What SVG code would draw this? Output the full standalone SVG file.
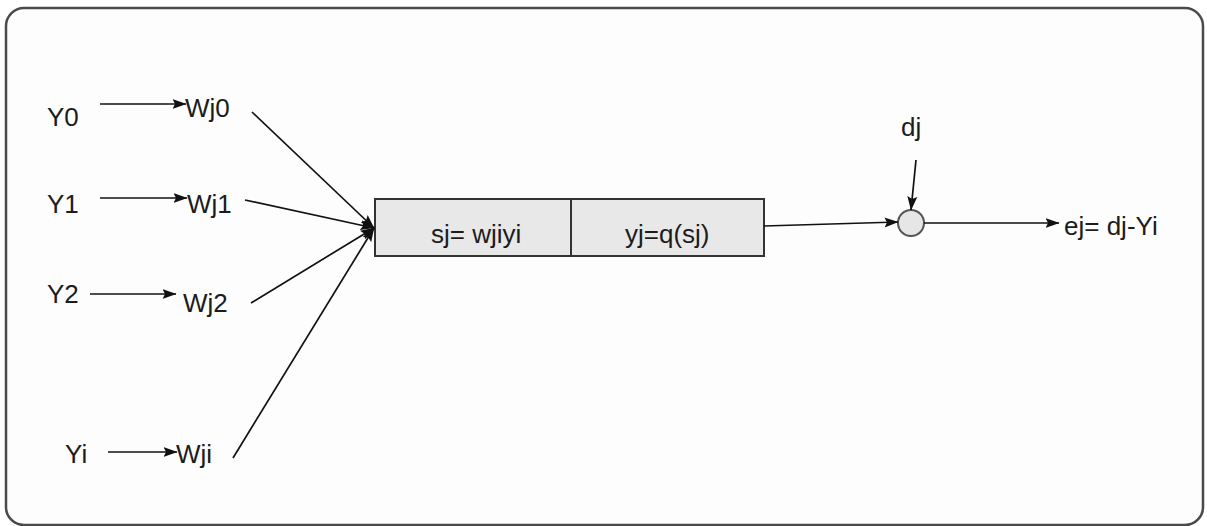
<svg xmlns="http://www.w3.org/2000/svg" width="1207" height="526" viewBox="0 0 1207 526">
  <style>
    .lbl { font-family: "Liberation Sans", Arial, sans-serif; font-size: 26px; fill: #1c1c1c; }
    .wire { stroke: #111; stroke-width: 1.7; fill: none; }
    .box { fill: #e8e8e8; stroke: #333; stroke-width: 2; }
  </style>
  <defs>
    <marker id="arrow" viewBox="0 0 14 11" refX="13.5" refY="5.5" markerWidth="14" markerHeight="11" markerUnits="userSpaceOnUse" orient="auto">
      <path d="M0,0.5 L14,5.5 L0,10.5 L2.5,5.5 Z" fill="#111"/>
    </marker>
  </defs>

  <rect x="0" y="0" width="1207" height="526" fill="#ffffff"/>
  <!-- outer frame -->
  <rect x="6" y="8" width="1197" height="517" rx="18" ry="18" fill="#fdfdfd" stroke="#4a4a4a" stroke-width="2.5"/>

  <!-- inputs and weights -->
  <g id="in-y0"><text class="lbl" x="47" y="126">Y0</text></g>
  <g id="w-j0"><text class="lbl" x="185" y="117">Wj0</text></g>
  <g id="in-y1"><text class="lbl" x="47" y="213">Y1</text></g>
  <g id="w-j1"><text class="lbl" x="187" y="213">Wj1</text></g>
  <g id="in-y2"><text class="lbl" x="47" y="303">Y2</text></g>
  <g id="w-j2"><text class="lbl" x="183" y="312">Wj2</text></g>
  <g id="in-yi"><text class="lbl" x="65" y="463">Yi</text></g>
  <g id="w-ji"><text class="lbl" x="176" y="463">Wji</text></g>

  <!-- neuron body: summation and activation -->
  <g id="neuron">
    <rect class="box" x="375" y="199" width="389" height="57"/>
    <line x1="571" y1="199" x2="571" y2="256" stroke="#333" stroke-width="2"/>
    <text class="lbl" x="431" y="243">sj= wjiyi</text>
    <text class="lbl" x="625" y="243">yj=q(sj)</text>
  </g>

  <!-- comparator -->
  <g id="compare">
    <circle cx="911" cy="223" r="13" fill="#e6e6e6" stroke="#555" stroke-width="2"/>
  </g>
  <g id="target"><text class="lbl" x="901" y="136">dj</text></g>
  <g id="error"><text class="lbl" x="1064" y="235">ej= dj-Yi</text></g>

  <!-- connectors -->
  <g id="connectors">
    <line class="wire" x1="100" y1="104" x2="186" y2="104" marker-end="url(#arrow)"/>
    <line class="wire" x1="100" y1="198" x2="187" y2="198" marker-end="url(#arrow)"/>
    <line class="wire" x1="90" y1="294" x2="176" y2="294" marker-end="url(#arrow)"/>
    <line class="wire" x1="108" y1="452" x2="177" y2="452" marker-end="url(#arrow)"/>

    <line class="wire" x1="252" y1="112" x2="374" y2="228" marker-end="url(#arrow)"/>
    <line class="wire" x1="245" y1="200" x2="374" y2="228" marker-end="url(#arrow)"/>
    <line class="wire" x1="251" y1="303" x2="374" y2="228" marker-end="url(#arrow)"/>
    <line class="wire" x1="233" y1="458" x2="374" y2="228" marker-end="url(#arrow)"/>

    <line class="wire" x1="764" y1="226" x2="898" y2="222" marker-end="url(#arrow)"/>
    <line class="wire" x1="916" y1="160" x2="911" y2="210" marker-end="url(#arrow)"/>
    <line class="wire" x1="924" y1="223" x2="1059" y2="223" marker-end="url(#arrow)"/>
  </g>
</svg>
